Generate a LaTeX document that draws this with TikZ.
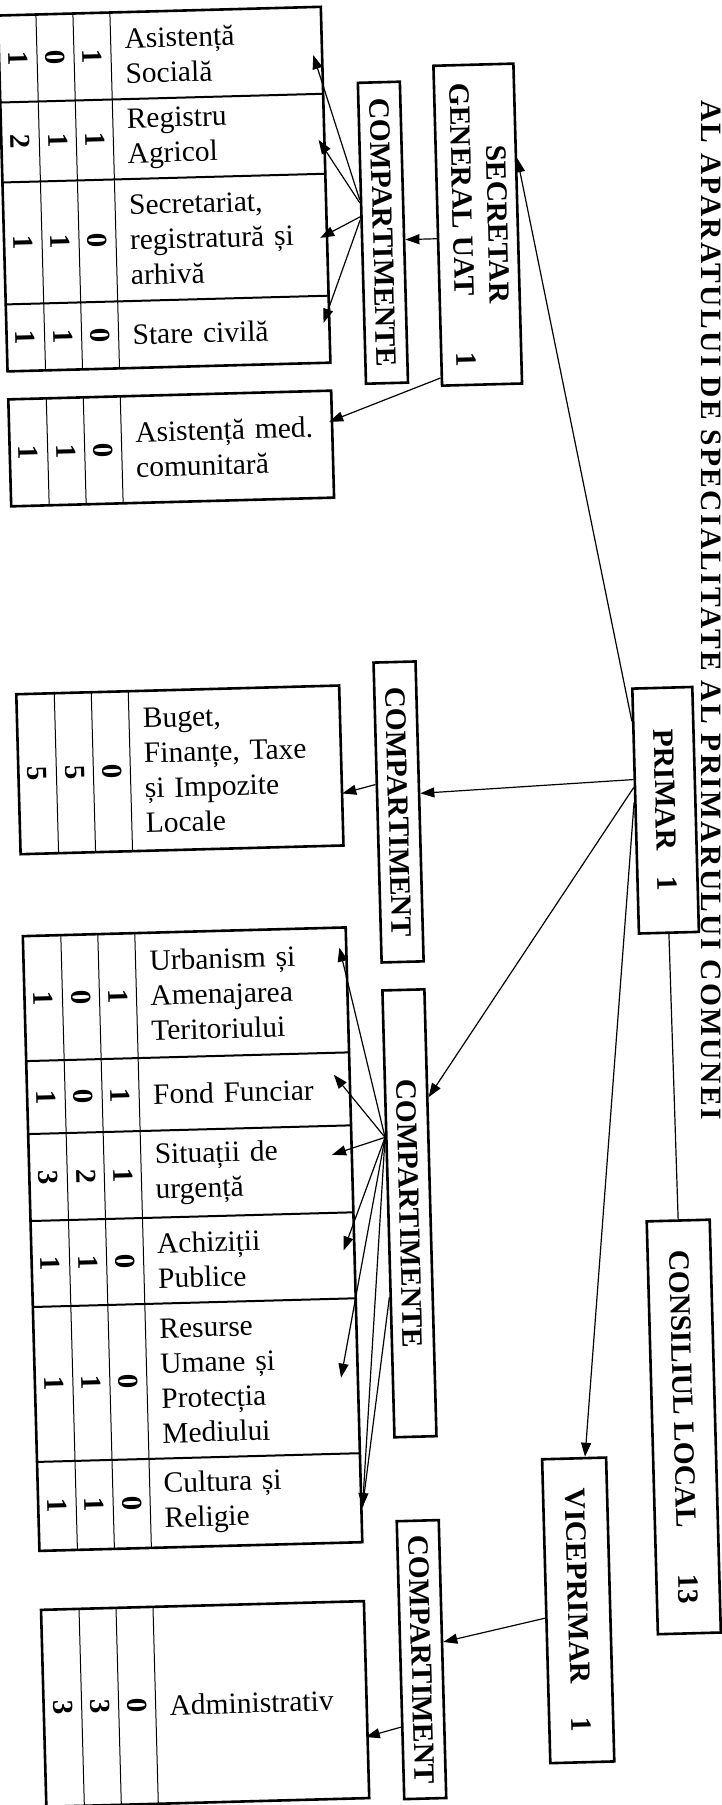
\documentclass[tikz,border=0pt]{standalone}
\usepackage{graphicx}
\usepackage{fontspec}
\setmainfont{Liberation Serif}
\newfontfamily\titlefont[LetterSpace=8]{Liberation Serif}
\usetikzlibrary{arrows.meta}
\newcommand{\numrow}[5]{%
  \node[numt] (#1-a) at (115.5,#2) {\rotatebox{-90}{#3}};
  \node[numt] (#1-b) at (78.5,#2) {\rotatebox{-90}{#4}};
  \node[numt] (#1-c) at (41,#2) {\rotatebox{-90}{#5}};}
\begin{document}
\begin{tikzpicture}[x=1pt,y=-1pt,
  hdr/.style={draw, line width=2.6pt, inner sep=0pt, font=\fontsize{29.5}{35}\selectfont\bfseries},
  cellt/.style={minimum height=#1, text width=183pt, inner xsep=14pt, inner ysep=0pt, align=left, font=\fontsize{29.5}{35}\selectfont},
  numt/.style={inner sep=0pt, font=\fontsize{29}{35}\selectfont\bfseries},
  conn/.style={line width=1.2pt, -{Triangle[length=14pt,width=10pt]}},
  plainl/.style={line width=1.2pt},
  tbl/.style={line width=2.6pt},
  rowl/.style={line width=2pt},
  coll/.style={line width=1pt}]
\fill[white] (0,0) rectangle (722,1805);
\useasboundingbox (0,0) rectangle (722,1805);
% title
\node[anchor=north, inner sep=0pt, font=\titlefont\fontsize{29.5}{35}\selectfont\bfseries] (title) at (711.5,100)
  {\rotatebox{-90}{AL APARATULUI DE SPECIALITATE AL PRIMARULUI COMUNEI}};
\begin{scope}[rotate around={1.55:(361,902)}, transform shape]
% heading boxes
\node[hdr, minimum width=80pt, minimum height=320pt] (secretar) at (496,228)
  {\rotatebox{-90}{\begin{tabular}{@{}c@{}}SECRETAR\\\makebox[284pt]{GENERAL UAT\hfill 1}\end{tabular}}};
\node[hdr, minimum width=42pt, minimum height=301pt] (compS) at (401,233.5) {\rotatebox{-90}{COMPARTIMENTE}};
\node[hdr, minimum width=60pt, minimum height=245pt] (primar) at (668,818.5) {\rotatebox{-90}{PRIMAR\hspace{0.9em}1}};
\node[hdr, minimum width=42pt, minimum height=300pt] (compB) at (401,813) {\rotatebox{-90}{COMPARTIMENT}};
\node[hdr, minimum width=42pt, minimum height=447pt] (compM) at (401,1214.5) {\rotatebox{-90}{COMPARTIMENTE}};
\node[hdr, minimum width=63pt, minimum height=413pt] (consiliul) at (669.5,1435.5) {\rotatebox{-90}{CONSILIUL LOCAL\hspace{1.6em}13}};
\node[hdr, minimum width=64pt, minimum height=304pt] (vice) at (559,1616) {\rotatebox{-90}{VICEPRIMAR\hspace{1.15em}1}};
\node[hdr, minimum width=42pt, minimum height=278pt] (compA) at (401,1661) {\rotatebox{-90}{COMPARTIMENT}};
% table frames
\foreach \t/\b in {6/362, 390/497, 685/845, 927/1542, 1601/1798} {
  \foreach \c in {60,97,134} \draw[coll] (\c,\t) -- (\c,\b);
  \draw[tbl] (22,\t) rectangle (345,\b);
}
\foreach \r in {93,173,295,1052,1125,1212,1298,1453} \draw[rowl] (22,\r) -- (345,\r);
% cell texts
\node[cellt=87pt] (asist) at (239.5,49.5) {Asistență\\Socială};
\node[cellt=80pt] (registru) at (239.5,133) {Registru\\Agricol};
\node[cellt=122pt] (secretariat) at (239.5,234) {Secretariat,\\registratură și\\arhivă};
\node[cellt=67pt] (stare) at (239.5,328.5) {Stare civilă};
\node[cellt=107pt] (med) at (239.5,443.5) {Asistență med.\\comunitară};
\node[cellt=160pt] (buget) at (239.5,765) {Buget,\\Finanțe, Taxe\\și Impozite\\Locale};
\node[cellt=125pt] (urban) at (239.5,989.5) {Urbanism și\\Amenajarea\\Teritoriului};
\node[cellt=73pt] (fond) at (239.5,1088.5) {Fond Funciar};
\node[cellt=87pt] (situatii) at (239.5,1168.5) {Situații de\\urgență};
\node[cellt=86pt] (achiz) at (239.5,1255) {Achiziții\\Publice};
\node[cellt=155pt] (resurse) at (239.5,1375.5) {Resurse\\Umane și\\Protecția\\Mediului};
\node[cellt=89pt] (cultura) at (239.5,1497.5) {Cultura și\\Religie};
\node[cellt=197pt] (admin) at (239.5,1699.5) {Administrativ};
% numbers
\numrow{asist}{49.5}{1}{0}{1}
\numrow{registru}{133}{1}{1}{2}
\numrow{secretariat}{234}{0}{1}{1}
\numrow{stare}{328.5}{0}{1}{1}
\numrow{med}{443.5}{0}{1}{1}
\numrow{buget}{765}{0}{5}{5}
\numrow{urban}{989.5}{1}{0}{1}
\numrow{fond}{1088.5}{1}{0}{1}
\numrow{situatii}{1168.5}{1}{2}{3}
\numrow{achiz}{1255}{0}{1}{1}
\numrow{resurse}{1375.5}{0}{1}{1}
\numrow{cultura}{1497.5}{0}{1}{1}
\numrow{admin}{1699.5}{0}{3}{3}
% connectors
\draw[conn] ([yshift=-34pt]primar.north west) -- ([yshift=-96pt]secretar.north east);
\draw[conn] ([yshift=-13pt]secretar.west) -- ([yshift=-7.5pt]compS.east);
\draw[conn] ([yshift=33.5pt]compS.west) -- ([xshift=-9pt,yshift=-4.5pt]asist.east);
\draw[conn] ([yshift=30.5pt]compS.west) -- ([xshift=-6pt,yshift=-6pt]registru.east);
\draw[conn] ([yshift=16.5pt]compS.west) -- ([xshift=-7pt,yshift=-3pt]secretariat.east);
\draw[conn] ([yshift=13.5pt]compS.west) -- ([xshift=-6pt,yshift=6.5pt]stare.east);
\draw[conn] ([yshift=9pt]secretar.south west) -- ([xshift=-3pt,yshift=22.5pt]med.east);
\draw[conn] ([yshift=31.5pt]primar.west) -- ([yshift=18pt]compB.east);
\draw[conn] ([yshift=28pt]compB.west) -- ([yshift=-28pt]buget.east);
\draw[conn] ([yshift=23.5pt]primar.west) -- ([yshift=115.5pt]compM.east);
\draw[conn] ([yshift=8.5pt]primar.west) -- ([xshift=11pt]vice.north);
\draw[plainl] (primar.south) -- (consiliul.north);
\draw[conn] ([yshift=76.5pt]compM.west) -- ([xshift=-7pt,yshift=42.5pt]urban.east);
\draw[conn] ([yshift=76.5pt]compM.west) -- ([xshift=-16pt,yshift=14.5pt]fond.east);
\draw[conn] ([yshift=76.5pt]compM.west) -- ([xshift=-20pt,yshift=14.5pt]situatii.east);
\draw[conn] ([yshift=76.5pt]compM.west) -- ([xshift=-11pt,yshift=5pt]achiz.east);
\draw[conn] ([yshift=76.5pt]compM.west) -- ([xshift=-17pt,yshift=-1.5pt]resurse.east);
\draw[conn] ([yshift=76.5pt]compM.west) -- ([xshift=1pt,yshift=-9.5pt]cultura.east);
\draw[plainl] ([yshift=-83.5pt]compM.west) -- ([xshift=1pt,yshift=-9.5pt]cultura.east);
\draw[conn] ([yshift=-7pt]vice.west) -- ([yshift=17pt]compA.east);
\draw[conn] ([yshift=-67pt]compA.west) -- ([xshift=-2pt,yshift=-37.5pt]admin.east);
\end{scope}
\end{tikzpicture}
\end{document}
